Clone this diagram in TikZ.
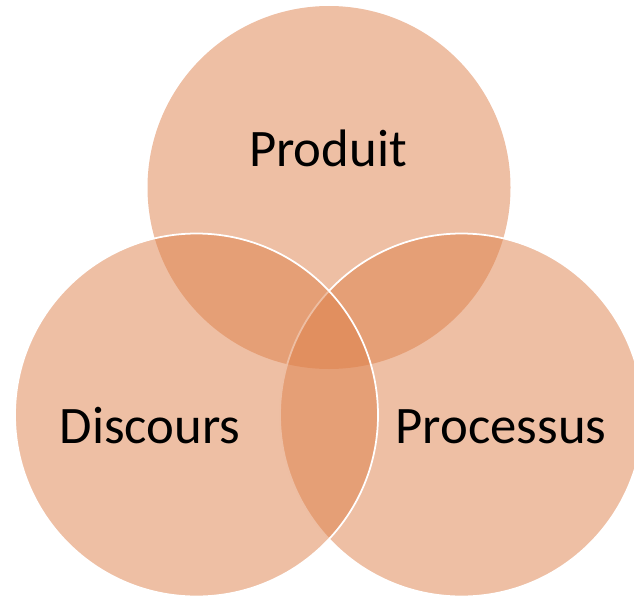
\documentclass[tikz,border=0pt]{standalone}
\usepackage{fontspec}
\setmainfont{Carlito}
\usepackage{xcolor}
\definecolor{vennorange}{RGB}{221,127,73}
\tikzset{venn/.style={fill=vennorange,fill opacity=0.5,draw=white,draw opacity=1,line width=1pt},
lbl/.style={anchor=base,font=\fontsize{30}{36}\selectfont,text=black}}
\begin{document}
\begin{tikzpicture}
\useasboundingbox(0,0)rectangle(12.68,11.94);
\clip(0,0)rectangle(12.68,11.94);
\fill[vennorange,fill opacity=0.5](6.58,8.19)circle(3.63);
\draw[venn](9.23,3.64)circle(3.63);
\draw[venn](3.93,3.64)circle(3.63);
\node[lbl](produit)at(6.56,8.61){Produit};
\node[lbl](discours)at(3.0,3.07){Discours};
\node[lbl](processus)at(10.02,3.07){Processus};
\end{tikzpicture}
\end{document}
